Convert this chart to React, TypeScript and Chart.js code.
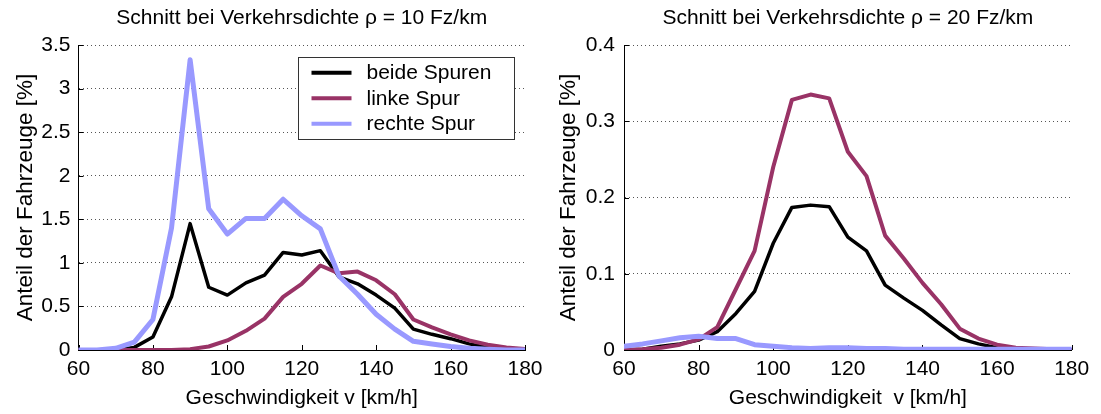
import React, { useEffect, useRef } from "react";
import { Chart, registerables } from "chart.js";

Chart.register(...registerables);

// ---------- data ----------
const speeds = [60, 65, 70, 75, 80, 85, 90, 95, 100, 105, 110, 115, 120, 125, 130, 135, 140, 145, 150, 155, 160, 165, 170, 175, 180];

// rho = 10 Fz/km
const beide10 = [0, 0, 0, 0.03, 0.15, 0.61, 1.45, 0.72, 0.63, 0.77, 0.86, 1.12, 1.09, 1.14, 0.84, 0.76, 0.63, 0.48, 0.24, 0.18, 0.13, 0.07, 0.03, 0.01, 0];
const linke10 = [0, 0, 0, 0, 0, 0, 0.01, 0.04, 0.11, 0.22, 0.36, 0.61, 0.76, 0.97, 0.88, 0.9, 0.8, 0.64, 0.35, 0.26, 0.18, 0.11, 0.06, 0.03, 0.01];
const rechte10 = [0, 0, 0.02, 0.09, 0.35, 1.4, 3.33, 1.62, 1.33, 1.51, 1.51, 1.73, 1.54, 1.39, 0.85, 0.64, 0.41, 0.24, 0.1, 0.07, 0.04, 0.02, 0.01, 0, 0];

// rho = 20 Fz/km
const beide20 = [0, 0.001, 0.005, 0.008, 0.013, 0.024, 0.048, 0.077, 0.14, 0.187, 0.19, 0.188, 0.148, 0.13, 0.085, 0.068, 0.052, 0.033, 0.015, 0.008, 0.003, 0.001, 0, 0, 0];
const linke20 = [0, 0.001, 0.003, 0.007, 0.014, 0.03, 0.08, 0.13, 0.24, 0.328, 0.335, 0.33, 0.26, 0.228, 0.15, 0.12, 0.088, 0.06, 0.028, 0.015, 0.007, 0.003, 0.002, 0.001, 0];
const rechte20 = [0.005, 0.008, 0.012, 0.016, 0.018, 0.015, 0.015, 0.007, 0.005, 0.003, 0.002, 0.003, 0.003, 0.002, 0.002, 0.001, 0.001, 0.001, 0.001, 0.001, 0.001, 0.001, 0.001, 0.001, 0.001];

const seriesLabels = ["beide Spuren", "linke Spur", "rechte Spur"];
const seriesColors = ["#000000", "#993366", "#9999ff"];
const seriesWidths = [3.5, 4, 5];

const titles = ["Schnitt bei Verkehrsdichte \u03C1 = 10 Fz/km", "Schnitt bei Verkehrsdichte \u03C1 = 20 Fz/km"];
const xAxisTitles = ["Geschwindigkeit v [km/h]", "Geschwindigkeit  v [km/h]"];
const yAxisTitle = "Anteil der Fahrzeuge [%]";

const xTickValues = [60, 80, 100, 120, 140, 160, 180];
const xTickLabels = ["60", "80", "100", "120", "140", "160", "180"];
const yTickValues10 = [0, 0.5, 1, 1.5, 2, 2.5, 3, 3.5];
const yTickLabels10 = ["0", "0.5", "1", "1.5", "2", "2.5", "3", "3.5"];
const yTickValues20 = [0, 0.1, 0.2, 0.3, 0.4];
const yTickLabels20 = ["0", "0.1", "0.2", "0.3", "0.4"];

const FONT = "'Liberation Sans', Arial, Helvetica, sans-serif";

// ---------- plugins ----------
const inwardTicks = {
  id: "inwardTicks",
  beforeDatasetsDraw(chart: any) {
    const { ctx, chartArea, scales } = chart;
    ctx.save();
    ctx.strokeStyle = "#000";
    ctx.lineWidth = 1;
    ctx.beginPath();
    scales.x.ticks.forEach((t: any) => {
      const px = Math.round(scales.x.getPixelForValue(t.value)) + 0.5;
      ctx.moveTo(px, chartArea.bottom);
      ctx.lineTo(px, chartArea.bottom - 5);
    });
    scales.y.ticks.forEach((t: any) => {
      const py = Math.round(scales.y.getPixelForValue(t.value)) + 0.5;
      ctx.moveTo(chartArea.left, py);
      ctx.lineTo(chartArea.left + 5, py);
    });
    ctx.stroke();
    ctx.restore();
  },
};

const boxLegend = {
  id: "boxLegend",
  afterDraw(chart: any, _args: any, opts: any) {
    if (!opts || !opts.show) return;
    const { ctx, chartArea } = chart;
    const bx = chartArea.left + opts.dx;
    const by = chartArea.top + opts.dy;
    ctx.save();
    ctx.fillStyle = "#fff";
    ctx.fillRect(bx, by, opts.w, opts.h);
    ctx.strokeStyle = "#333";
    ctx.lineWidth = 1;
    ctx.strokeRect(Math.round(bx) + 0.5, Math.round(by) + 0.5, opts.w, opts.h);
    ctx.font = `21px ${FONT}`;
    ctx.textBaseline = "middle";
    ctx.textAlign = "left";
    chart.data.datasets.forEach((ds: any, i: number) => {
      const y = by + opts.rowY[i];
      ctx.strokeStyle = ds.borderColor;
      ctx.lineWidth = 4;
      ctx.beginPath();
      ctx.moveTo(bx + 14, y);
      ctx.lineTo(bx + 54, y);
      ctx.stroke();
      ctx.fillStyle = "#000";
      ctx.fillText(ds.label, bx + 69, y + 1);
    });
    ctx.restore();
  },
};

// ---------- chart ----------
type PanelProps = {
  title: string;
  xTitle: string;
  series: number[][];
  yMax: number;
  yValues: number[];
  yLabels: string[];
  yAxisWidth: number;
  yTitlePad: number;
  yTickPad: number;
  rightPad: number;
  legend: boolean;
  width: number;
};

function Panel(p: PanelProps) {
  const ref = useRef<HTMLCanvasElement>(null);
  useEffect(() => {
    if (!ref.current) return;
    const order = [2, 1, 0];
    const chart = new Chart(ref.current, {
      type: "line",
      data: {
        datasets: p.series.map((vals, i) => ({
          label: seriesLabels[i],
          data: speeds.map((s, j) => ({ x: s, y: vals[j] })),
          borderColor: seriesColors[i],
          backgroundColor: seriesColors[i],
          borderWidth: seriesWidths[i],
          pointRadius: 0,
          tension: 0,
          fill: false,
          order: order[i],
          borderJoinStyle: "round",
          borderCapStyle: "round",
        })),
      },
      options: {
        animation: false,
        responsive: false,
        devicePixelRatio: 1,
        layout: { padding: { left: 0, right: p.rightPad, top: 0, bottom: 0 } },
        plugins: {
          legend: { display: false },
          tooltip: { enabled: false },
          title: {
            display: true,
            text: p.title,
            fullSize: false,
            color: "#000",
            font: { family: FONT, size: 21, weight: "normal" },
            padding: { top: 6, bottom: 13.8 },
          },
          boxLegend: { show: p.legend, dx: 219, dy: 11.7, w: 216, h: 82, rowY: [16, 41.5, 67] },
        } as any,
        scales: {
          x: {
            type: "linear",
            min: 60,
            max: 180,
            afterBuildTicks: (s: any) => {
              s.ticks = xTickValues.map((v) => ({ value: v }));
            },
            afterFit: (s: any) => {
              s.height = 64;
            },
            ticks: {
              color: "#000",
              font: { family: FONT, size: 21 },
              padding: 6.6,
              maxRotation: 0,
              autoSkip: false,
              callback: (_v: any, i: number) => xTickLabels[i],
            },
            grid: { display: false, drawTicks: false },
            border: { display: true, color: "#000", width: 1 },
            title: {
              display: true,
              text: p.xTitle,
              color: "#000",
              font: { family: FONT, size: 21 },
              padding: { top: 0, bottom: 3.4 },
            },
          },
          y: {
            type: "linear",
            min: 0,
            max: p.yMax,
            afterBuildTicks: (s: any) => {
              s.ticks = p.yValues.map((v) => ({ value: v }));
            },
            afterFit: (s: any) => {
              s.width = p.yAxisWidth;
            },
            ticks: {
              color: "#000",
              font: { family: FONT, size: 21 },
              padding: p.yTickPad,
              autoSkip: false,
              callback: (_v: any, i: number) => p.yLabels[i],
            },
            grid: {
              drawTicks: false,
              color: (c: any) => (c.tick && c.tick.value === 0 ? "rgba(0,0,0,0)" : "#555"),
              lineWidth: 1,
            },
            border: { display: true, color: "#000", width: 1, dash: [1, 3] } as any,
            title: {
              display: true,
              text: yAxisTitle,
              color: "#000",
              font: { family: FONT, size: 22.5 },
              padding: { top: p.yTitlePad, bottom: 0 },
            },
          },
        },
      } as any,
      plugins: [inwardTicks, boxLegend],
    });
    return () => chart.destroy();
  }, []);
  return <canvas ref={ref} width={p.width} height={414} style={{ display: "block" }} />;
}

export default function App() {
  return (
    <div style={{ position: "absolute", left: 0, top: 0, width: 1101, height: 414, background: "#fff" }}>
      <div style={{ position: "absolute", left: 0, top: 0 }}>
        <Panel
          title={titles[0]}
          xTitle={xAxisTitles[0]}
          series={[beide10, linke10, rechte10]}
          yMax={3.5}
          yValues={yTickValues10}
          yLabels={yTickLabels10}
          yAxisWidth={78.5}
          yTitlePad={11.9}
          yTickPad={8}
          rightPad={25}
          legend={true}
          width={550}
        />
      </div>
      <div style={{ position: "absolute", left: 550, top: 0 }}>
        <Panel
          title={titles[1]}
          xTitle={xAxisTitles[1]}
          series={[beide20, linke20, rechte20]}
          yMax={0.4}
          yValues={yTickValues20}
          yLabels={yTickLabels20}
          yAxisWidth={74}
          yTitlePad={4.9}
          yTickPad={9}
          rightPad={29.3}
          legend={false}
          width={551}
        />
      </div>
    </div>
  );
}
